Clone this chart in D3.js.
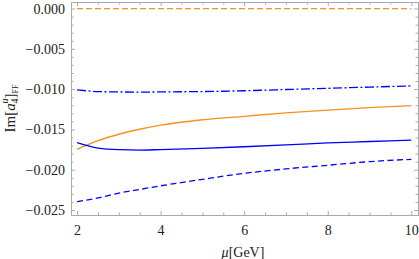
<!DOCTYPE html>
<html>
<head>
<meta charset="utf-8">
<script src="https://cdn.jsdelivr.net/npm/d3@7"></script>
<style>
  body { margin: 0; background: #fff; }
  svg { display: block; }
  .tick text { font-family: "Liberation Serif", serif; font-size: 14px; fill: #222; }
  .frame path.domain { stroke: #aaa; }
  .frame .tick line { stroke: #aaa; }
</style>
</head>
<body>
<div class="chart"></div>
<script>
// Data ---------------------------------------------------------------
const mu = [2, 2.5, 3, 3.5, 4, 5, 6, 7, 8, 9, 10];
const orangeSolid = [-0.01747, -0.0164, -0.0156, -0.01498, -0.01448, -0.0138, -0.01337, -0.01295, -0.0126, -0.0123, -0.01206];
const orangeDashed = [0, 0, 0, 0, 0, 0, 0, 0, 0, 0, 0];
const blueSolid = [-0.01665, -0.01732, -0.01752, -0.01756, -0.0175, -0.01735, -0.01715, -0.01692, -0.01668, -0.0165, -0.01632];
const blueDashed = [-0.02397, -0.0235, -0.0229, -0.02245, -0.0220, -0.0212, -0.02045, -0.0199, -0.01945, -0.0190, -0.01871];
const blueDashDot = [-0.0101, -0.0103, -0.01035, -0.01037, -0.01035, -0.0103, -0.0102, -0.01005, -0.0099, -0.00975, -0.0096];

const xTicks = [2, 4, 6, 8, 10];
const yTicks = [0, -0.005, -0.01, -0.015, -0.02, -0.025];

const series = [
  {values: orangeDashed, color: "#f7901e", dash: "6,3"},
  {values: blueDashDot, color: "#0000ff", dash: "9,2.5,2,2.5"},
  {values: orangeSolid, color: "#f7901e", dash: null},
  {values: blueSolid, color: "#0000ff", dash: null},
  {values: blueDashed, color: "#0000ff", dash: "6,3.5"}
];

// SVG ----------------------------------------------------------------
const width = 419, height = 259;
const plotLeft = 71, plotRight = 418, plotTop = 2, plotBottom = 215;

const svg = d3.select(".chart").append("svg")
  .attr("width", width)
  .attr("height", height);

const x = d3.scaleLinear().domain([1.855, 10.16]).range([plotLeft, plotRight]);
const y = d3.scaleLinear().domain([-0.02562, 0.00081]).range([plotBottom, plotTop]);

const xMinor = d3.range(2, 10.01, 0.5).filter(v => v % 2 !== 0);
const yMinor = d3.range(-25, 0.5, 1).filter(v => v % 5 !== 0).map(v => v / 1000);

// Frame + ticks ------------------------------------------------------
const addAxis = (axis, transform, labels) => {
  const g = svg.append("g")
    .attr("class", "frame")
    .attr("transform", transform)
    .call(axis);
  if (!labels) g.selectAll("text").remove();
  return g;
};

const fmt = d => d === 0 ? "0.000" : d3.format(".3f")(d).replace("-", "\u2212");

addAxis(d3.axisBottom(x).tickValues(xTicks).tickSize(-4).tickSizeOuter(0).tickPadding(10).tickFormat(d3.format("d")), `translate(0,${plotBottom})`, true);
addAxis(d3.axisBottom(x).tickValues(xMinor).tickSize(-2.5).tickSizeOuter(0), `translate(0,${plotBottom})`, false);
addAxis(d3.axisTop(x).tickValues(xTicks).tickSize(-4).tickSizeOuter(0), `translate(0,${plotTop})`, false);
addAxis(d3.axisTop(x).tickValues(xMinor).tickSize(-2.5).tickSizeOuter(0), `translate(0,${plotTop})`, false);
addAxis(d3.axisLeft(y).tickValues(yTicks).tickSize(-4).tickSizeOuter(0).tickPadding(6).tickFormat(fmt), `translate(${plotLeft},0)`, true);
addAxis(d3.axisLeft(y).tickValues(yMinor).tickSize(-2.5).tickSizeOuter(0), `translate(${plotLeft},0)`, false);
addAxis(d3.axisRight(y).tickValues(yTicks).tickSize(-4).tickSizeOuter(0), `translate(${plotRight},0)`, false);
addAxis(d3.axisRight(y).tickValues(yMinor).tickSize(-2.5).tickSizeOuter(0), `translate(${plotRight},0)`, false);

// Curves -------------------------------------------------------------
const line = d3.line()
  .curve(d3.curveMonotoneX)
  .x(d => x(d[0]))
  .y(d => y(d[1]));

series.forEach(s => {
  svg.append("path")
    .datum(mu.map((m, i) => [m, s.values[i]]))
    .attr("d", line)
    .attr("fill", "none")
    .attr("stroke", s.color)
    .attr("stroke-width", 1.3)
    .attr("stroke-dasharray", s.dash);
});

// Axis titles --------------------------------------------------------
const xt = svg.append("text")
  .attr("x", 243)
  .attr("y", 257)
  .attr("text-anchor", "middle")
  .style("font-family", "Liberation Serif, serif")
  .style("font-size", "14px")
  .attr("fill", "#222");
xt.append("tspan").style("font-style", "italic").text("\u03bc");
xt.append("tspan").text("[GeV]");

const yt = svg.append("text")
  .attr("transform", `translate(15,${(plotTop + plotBottom) / 2}) rotate(-90)`)
  .attr("text-anchor", "middle")
  .style("font-family", "Liberation Serif, serif")
  .style("font-size", "15px")
  .attr("fill", "#222");
yt.append("tspan").text("Im[");
yt.append("tspan").style("font-style", "italic").text("a");
yt.append("tspan").attr("dy", 3).style("font-size", "10px").text("4");
yt.append("tspan").attr("dx", -5).attr("dy", -10).style("font-size", "10px").style("font-style", "italic").text("u");
yt.append("tspan").attr("dy", 7).text("]");
yt.append("tspan").attr("dy", 3).style("font-size", "8px").text("FF");
</script>
</body>
</html>
